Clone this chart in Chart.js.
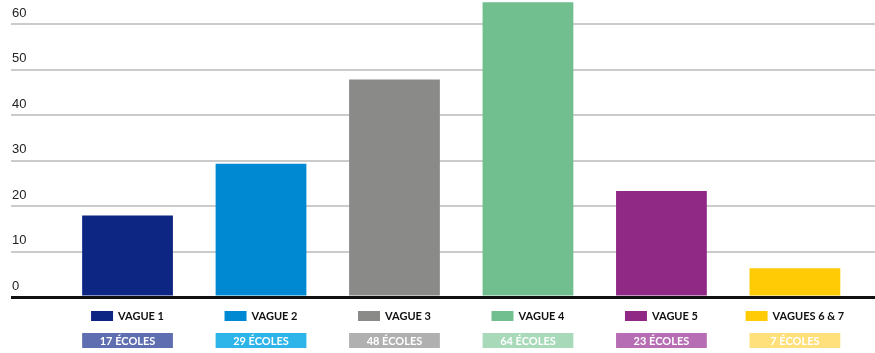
<!DOCTYPE html>
<html>
<head>
<meta charset="utf-8">
<script src="https://cdn.jsdelivr.net/npm/chart.js@4/dist/chart.umd.min.js"></script>
<style>
  html, body { margin: 0; padding: 0; background: #fff; }
  #wrap { width: 875px; height: 353px; position: relative; }
</style>
</head>
<body>
<div id="wrap"><canvas id="c" width="875" height="353"></canvas></div>
<script>
// ---- data ----
const categories = ['VAGUE 1', 'VAGUE 2', 'VAGUE 3', 'VAGUE 4', 'VAGUE 5', 'VAGUES 6 & 7'];
const values = [17.9, 29.3, 47.8, 64.8, 23.3, 6.3];
const schools = [17, 29, 48, 64, 23, 7];
const yTicks = [0, 10, 20, 30, 40, 50, 60];

// ---- styles ----
const barColors = ['#0d2683', '#0089d3', '#8a8a89', '#71bf8e', '#902886', '#fecb05'];
const badgeColors = ['#5f6db1', '#2db4e8', '#b0b0b0', '#a8d9b9', '#b66db4', '#ffe07b'];

const badgeLabels = schools.map(n => n + ' ÉCOLES');

const yLabelPlugin = {
  id: 'yLabels',
  afterDraw(chart) {
    const ctx = chart.ctx;
    const ys = chart.scales.y;
    ctx.save();
    ctx.font = '13px "Liberation Sans", Arial, sans-serif';
    ctx.fillStyle = '#222';
    ctx.textAlign = 'left';
    ctx.textBaseline = 'middle';
    yTicks.forEach(v => {
      ctx.fillText(String(v), chart.chartArea.left + 1, ys.getPixelForValue(v) - 11);
    });
    ctx.restore();
  }
};

const legendPlugin = {
  id: 'bottomLegend',
  afterDraw(chart) {
    const ctx = chart.ctx;
    const meta = chart.getDatasetMeta(0);
    const base = chart.chartArea.bottom;
    ctx.save();
    meta.data.forEach((el, i) => {
      const cx = el.x;
      const w = el.width;
      ctx.font = 'bold 11px Lato, "DejaVu Sans", sans-serif';
      const tw = ctx.measureText(categories[i]).width;
      const boxW = 22, gap = 5;
      const total = boxW + gap + tw;
      const sx = cx - total / 2;
      ctx.fillStyle = barColors[i];
      ctx.fillRect(sx, base + 14, boxW, 10);
      ctx.fillStyle = '#111';
      ctx.textAlign = 'left';
      ctx.textBaseline = 'middle';
      ctx.fillText(categories[i], sx + boxW + gap, base + 19.5);
      ctx.fillStyle = badgeColors[i];
      ctx.fillRect(cx - w / 2, base + 36, w, 15);
      ctx.fillStyle = '#ffffff';
      ctx.textAlign = 'center';
      ctx.fillText(badgeLabels[i], cx, base + 44);
    });
    ctx.restore();
  }
};

new Chart(document.getElementById('c'), {
  type: 'bar',
  data: {
    datasets: [{
      data: values.map((v, i) => ({ x: i, y: v })),
      backgroundColor: barColors,
      borderWidth: 0,
      categoryPercentage: 1,
      barPercentage: 0.68
    }]
  },
  options: {
    responsive: false,
    animation: false,
    layout: { padding: { left: 11, right: 0, top: 0, bottom: 56 } },
    plugins: { legend: { display: false }, tooltip: { enabled: false } },
    scales: {
      x: {
        type: 'linear',
        display: false,
        offset: false,
        min: -0.873,
        max: 5.6,
        afterBuildTicks(scale) {
          scale.ticks = categories.map((c, i) => ({ value: i }));
        }
      },
      y: {
        min: 0,
        max: 65.3,
        z: 1,
        afterBuildTicks(scale) {
          scale.ticks = yTicks.map(v => ({ value: v }));
        },
        border: { display: false },
        grid: {
          drawTicks: false,
          color: ctx => ctx.tick && ctx.tick.value === 0 ? '#111' : 'rgba(140,140,140,0.45)',
          lineWidth: ctx => ctx.tick && ctx.tick.value === 0 ? 3 : 2
        },
        ticks: { display: false }
      }
    }
  },
  plugins: [yLabelPlugin, legendPlugin]
});
</script>
</body>
</html>
